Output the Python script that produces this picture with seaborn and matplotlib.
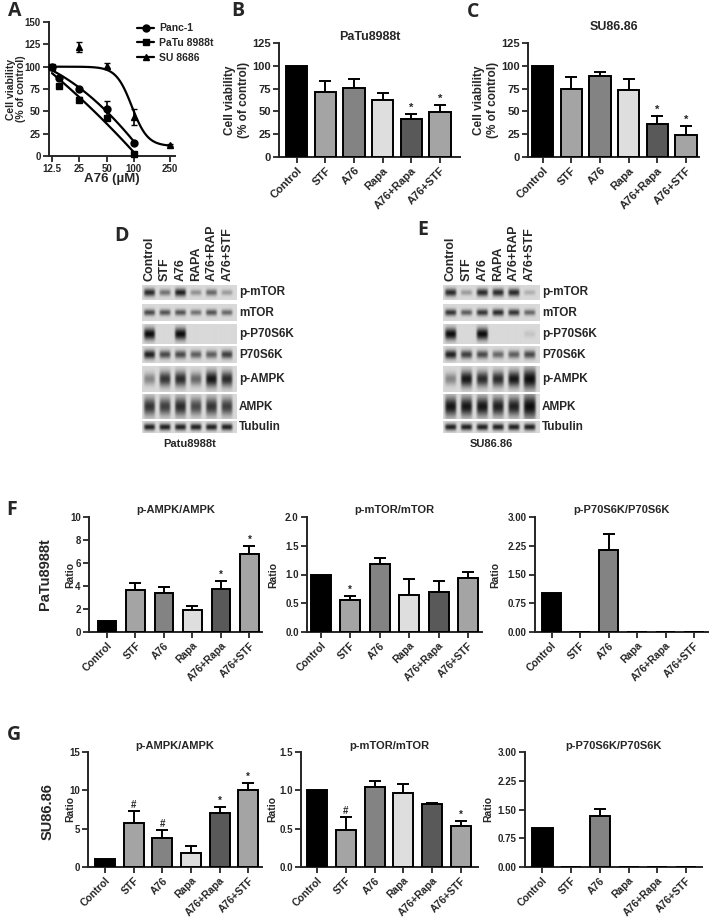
import numpy as np
import matplotlib
matplotlib.use("Agg")
import matplotlib.pyplot as plt
from matplotlib.lines import Line2D
import seaborn as sns

W, H = 712, 919

# ---------------- data ----------------
treatments = ["Control", "STF", "A76", "Rapa", "A76+Rapa", "A76+STF"]
bar_colors = ["#000000", "#a4a4a4", "#838383", "#dedede", "#595959", "#a4a4a4"]

# A: dose response (A76, uM)
panc1_dose = [12.5, 15, 25, 50, 100]
panc1_mean = [100, 87, 75, 53, 15]
panc1_err = [0, 2, 2, 9, 1]
patu_dose = [12.5, 15, 25, 50, 100]
patu_mean = [100, 78, 63, 42, 2]
patu_err = [0, 2, 3, 2, 1]
su_dose = [12.5, 25, 50, 100, 250]
su_mean = [100, 122, 101, 44, 12]
su_err = [0, 6, 3, 9, 1]
su_fit = [100, 11, 95, 5]          # top, bottom, IC50, hill slope
dose_ticks = [12.5, 25, 50, 100, 250]

# B / C: cell viability (% of control)
patu_viab = [100, 71, 76, 63, 42, 49]
patu_viab_err = [0, 12, 10, 7, 5, 8]
su_viab = [100, 75, 89, 74, 36, 24]
su_viab_err = [0, 13, 4, 12, 9, 10]
viab_sig = ["", "", "", "", "*", "*"]

# F: PaTu8988t ratios
patu_ampk = [1.0, 3.65, 3.42, 1.9, 3.77, 6.8]
patu_ampk_err = [0, 0.58, 0.52, 0.38, 0.67, 0.7]
patu_ampk_sig = ["", "", "", "", "*", "*"]
patu_mtor = [1.0, 0.56, 1.19, 0.64, 0.70, 0.935]
patu_mtor_err = [0, 0.07, 0.10, 0.28, 0.19, 0.105]
patu_mtor_sig = ["", "*", "", "", "", ""]
patu_p70 = [1.03, 0, 2.15, 0, 0, 0]
patu_p70_err = [0, 0, 0.4, 0, 0, 0]

# G: SU86.86 ratios
su_ampk = [1.04, 5.78, 3.74, 1.83, 7.09, 10.0]
su_ampk_err = [0, 1.5, 1.04, 0.87, 0.74, 1.0]
su_ampk_sig = ["", "#", "#", "", "*", "*"]
su_mtor = [1.0, 0.48, 1.05, 0.96, 0.82, 0.53]
su_mtor_err = [0, 0.17, 0.07, 0.12, 0.01, 0.07]
su_mtor_sig = ["", "#", "", "", "", "*"]
su_p70 = [1.02, 0, 1.32, 0, 0, 0]
su_p70_err = [0, 0, 0.2, 0, 0, 0]

# D / E: western blot band strengths (rows = proteins, cols = lanes)
blot_lanes = ["Control", "STF", "A76", "RAPA", "A76+RAP", "A76+STF"]
blot_proteins = ["p-mTOR", "mTOR", "p-P70S6K", "P70S6K", "p-AMPK", "AMPK", "Tubulin"]
patu_blot = [
    [0.85, 0.5, 0.9, 0.35, 0.55, 0.3],
    [0.7, 0.65, 0.65, 0.5, 0.65, 0.55],
    [1.0, 0, 1.05, 0, 0, 0],
    [0.9, 0.7, 0.7, 0.6, 0.6, 0.75],
    [0.4, 0.8, 0.85, 0.55, 0.95, 0.85],
    [0.8, 0.75, 0.85, 0.7, 0.8, 0.75],
    [0.9, 0.9, 0.9, 0.9, 0.9, 0.9],
]
su_blot = [
    [0.85, 0.3, 0.85, 0.85, 0.85, 0.2],
    [0.8, 0.6, 0.8, 0.85, 0.8, 0.55],
    [1.0, 0, 1.05, 0, 0, 0.1],
    [0.9, 0.75, 0.7, 0.55, 0.6, 0.7],
    [0.4, 0.95, 0.85, 0.85, 0.95, 1.5],
    [0.95, 0.95, 0.95, 0.9, 0.9, 1.4],
    [0.9, 0.9, 0.9, 0.9, 0.9, 0.9],
]

# ---------------- style ----------------
sns.set_style("ticks")
plt.rcParams["font.family"] = ["Liberation Sans", "DejaVu Sans"]
plt.rcParams["font.weight"] = "bold"
plt.rcParams["axes.labelweight"] = "bold"
plt.rcParams["axes.titleweight"] = "bold"
plt.rcParams["axes.linewidth"] = 1.4

fig = plt.figure(figsize=(W / 100, H / 100), dpi=100)


def px_rect(l, t, r, b):
    return [l / W, 1 - b / H, (r - l) / W, (b - t) / H]


def panel_letter(x, y, s):
    fig.text(x / W, 1 - y / H, s, fontsize=14, fontweight="bold",
             family=["Open Sans", "DejaVu Sans"], ha="center", va="center")


def bar_panel(rect, values, errors, marks, ylim, yticks, yfmt, xlim, width,
              title, title_pad, ylabel, ylabel_x, fs, xfs, lfs):
    ax = fig.add_axes(px_rect(*rect))
    sns.barplot(x=treatments, y=values, hue=treatments, palette=bar_colors,
                legend=False, edgecolor="black", linewidth=1.4, width=width,
                ax=ax, zorder=3)
    x = np.arange(len(values))
    vals = np.array(values, dtype=float)
    errs = np.array(errors, dtype=float)
    m = errs > 0
    ax.errorbar(x[m], vals[m], yerr=[np.zeros(m.sum()), errs[m]], fmt="none",
                ecolor="black", elinewidth=1.4, capsize=4, capthick=1.4, zorder=2)
    span = ylim[1] - ylim[0]
    for i, s in enumerate(marks):
        if s:
            ax.text(i, vals[i] + errs[i] + span * 0.01, s, ha="center", va="bottom",
                    fontsize=fs, fontweight="bold")
    ax.set_ylim(*ylim)
    ax.set_xlim(*xlim)
    ax.set_yticks(yticks)
    ax.set_yticklabels([yfmt.format(t) for t in yticks], fontsize=fs)
    ax.set_xticks(x)
    ax.set_xticklabels(treatments, rotation=45, ha="right", rotation_mode="anchor",
                       fontsize=xfs)
    ax.tick_params(direction="out", length=4, width=1.3, pad=2)
    ax.set_xlabel("")
    ax.set_title(title, fontsize=fs + 1, pad=title_pad)
    ax.set_ylabel(ylabel, fontsize=lfs)
    ax.yaxis.set_label_coords(ylabel_x, 0.5)
    sns.despine(ax=ax)
    return ax


# ---------------- A ----------------
axA = fig.add_axes(px_rect(49, 22, 175, 156))
axA.set_xscale("log")
grid_low = np.logspace(np.log10(12.5), np.log10(100), 120)
grid_all = np.logspace(np.log10(12.5), np.log10(250), 200)
c1 = np.polyfit(np.log10(panc1_dose), panc1_mean, 2)
c2 = np.polyfit(np.log10(patu_dose), patu_mean, 2)
top, bottom, ic50, hill = su_fit
sns.lineplot(x=grid_low, y=np.polyval(c1, np.log10(grid_low)), color="black",
             linewidth=1.6, ax=axA)
sns.lineplot(x=grid_low, y=np.polyval(c2, np.log10(grid_low)), color="black",
             linewidth=1.6, ax=axA)
sns.lineplot(x=grid_all, y=bottom + (top - bottom) / (1 + (grid_all / ic50) ** hill),
             color="black", linewidth=1.6, ax=axA)
for d, mval, e, mk in [(panc1_dose, panc1_mean, panc1_err, "o"),
                       (patu_dose, patu_mean, patu_err, "s"),
                       (su_dose, su_mean, su_err, "^")]:
    axA.errorbar(d, mval, yerr=e, fmt=mk, color="black", markersize=5,
                 capsize=2.5, elinewidth=1.2, clip_on=False, zorder=4)
axA.set_xlim(11.6, 284)
axA.set_ylim(0, 150)
axA.set_xticks(dose_ticks)
axA.set_xticklabels(["12.5", "25", "50", "100", "250"], fontsize=7)
axA.xaxis.set_minor_locator(matplotlib.ticker.NullLocator())
axA.set_yticks([0, 25, 50, 75, 100, 125, 150])
axA.set_yticklabels(["0", "25", "50", "75", "100", "125", "150"], fontsize=7)
axA.tick_params(direction="out", length=4, width=1.3, pad=2)
axA.set_xlabel("A76 (\u00b5M)", fontsize=9.5)
axA.xaxis.set_label_coords(0.5, -0.13)
axA.set_ylabel("Cell viability\n(% of control)", fontsize=7.5, linespacing=1.0)
axA.yaxis.set_label_coords(-0.185, 0.5)
sns.despine(ax=axA)
handles = [Line2D([0], [0], color="black", marker=mk, markersize=5, linewidth=1.6)
           for mk in ["o", "s", "^"]]
axA.legend(handles, ["Panc-1", "PaTu 8988t", "SU 8686"], loc="upper left",
           bbox_to_anchor=(0.70, 0.99), frameon=False, fontsize=7.5,
           handlelength=1.6, handletextpad=0.5, labelspacing=0.45,
           borderpad=0, borderaxespad=0)

# ---------------- B / C ----------------
bar_panel((279, 43, 460, 157), patu_viab, patu_viab_err, viab_sig, (0, 125),
          [0, 25, 50, 75, 100, 125], "{:g}", (-0.62, 5.7), 0.74,
          "PaTu8988t", 2, "Cell viability\n(% of control)", -0.16, 8, 8, 8.5)
bar_panel((528, 43, 699, 157), su_viab, su_viab_err, viab_sig, (0, 125),
          [0, 25, 50, 75, 100, 125], "{:g}", (-0.51, 5.45), 0.75,
          "SU86.86", 9, "Cell viability\n(% of control)", -0.17, 8, 8, 8.5)


# ---------------- D / E blots ----------------
strip_rows = [(0, 15), (19, 36), (39, 59), (61, 78), (81, 107), (109, 134), (136, 148)]
band_thick = [0.28, 0.22, 0.3, 0.28, 0.32, 0.4, 0.3]


def draw_blot(rect, levels, cell_name):
    ax = fig.add_axes(px_rect(*rect))
    x0, x1 = -0.47, 5.63
    ax.set_axis_off()
    xs = np.linspace(x0, x1, 160)
    for (t, b), row, th, name in zip(strip_rows, levels, band_thick, blot_proteins):
        ys = np.linspace(-0.5, 0.5, 40)
        dark = np.zeros((len(ys), len(xs)))
        for j, v in enumerate(row):
            if v <= 0:
                continue
            sig = th * (0.55 + 0.45 * min(v, 1.6))
            prof_x = np.exp(-((xs - j) / (0.36 + 0.06 * max(v - 1, 0))) ** 6)
            prof_y = np.exp(-(ys / sig) ** 2)
            dark += min(v, 1.0) * prof_y[:, None] * prof_x[None, :]
        img = 0.85 - 0.8 * np.clip(dark, 0, 1)
        ax.imshow(img, cmap="gray", vmin=0, vmax=1, extent=(x0, x1, b, t),
                  aspect="auto", interpolation="bilinear", origin="upper")
        ax.text(x1 + 0.12, (t + b) / 2, name, ha="left", va="center", fontsize=8.5,
                fontweight="bold")
    ax.set_xlim(x0, x1)
    ax.set_ylim(148, 0)
    for j, lane in enumerate(blot_lanes):
        ax.text(j, -4, lane, rotation=90, ha="center", va="bottom", fontsize=9,
                fontweight="bold")
    ax.text((x0 + x1) / 2, 154, cell_name, ha="center", va="top", fontsize=8,
            fontweight="bold")


draw_blot((142, 285, 237, 433), patu_blot, "Patu8988t")
draw_blot((443, 285, 540, 433), su_blot, "SU86.86")

# ---------------- F ----------------
bar_panel((89, 517, 262, 632), patu_ampk, patu_ampk_err, patu_ampk_sig, (0, 10),
          [0, 2, 4, 6, 8, 10], "{:g}", (-0.63, 5.44), 0.66,
          "p-AMPK/AMPK", 3, "Ratio", -0.08, 7, 7.5, 7.5)
bar_panel((307, 517, 482, 632), patu_mtor, patu_mtor_err, patu_mtor_sig, (0, 2),
          [0, 0.5, 1.0, 1.5, 2.0], "{:.1f}", (-0.46, 5.47), 0.68,
          "p-mTOR/mTOR", 3, "Ratio", -0.166, 7, 7.5, 7.5)
bar_panel((535, 517, 708, 632), patu_p70, patu_p70_err, [""] * 6, (0, 3),
          [0, 0.75, 1.5, 2.25, 3.0], "{:.2f}", (-0.58, 5.49), 0.67,
          "p-P70S6K/P70S6K", 3, "Ratio", -0.2, 7, 7.5, 7.5)

# ---------------- G ----------------
bar_panel((88, 752, 262, 867), su_ampk, su_ampk_err, su_ampk_sig, (0, 15),
          [0, 5, 10, 15], "{:g}", (-0.6, 5.48), 0.7,
          "p-AMPK/AMPK", 2, "Ratio", -0.075, 7, 7.5, 7.5)
bar_panel((301, 752, 478, 867), su_mtor, su_mtor_err, su_mtor_sig, (0, 1.5),
          [0, 0.5, 1.0, 1.5], "{:.1f}", (-0.56, 5.6), 0.7,
          "p-mTOR/mTOR", 2, "Ratio", -0.136, 7, 7.5, 7.5)
bar_panel((525, 752, 702, 867), su_p70, su_p70_err, [""] * 6, (0, 3),
          [0, 0.75, 1.5, 2.25, 3.0], "{:.2f}", (-0.61, 5.56), 0.7,
          "p-P70S6K/P70S6K", 2, "Ratio", -0.18, 7, 7.5, 7.5)

fig.text(45 / W, 1 - 574 / H, "PaTu8988t", rotation=90, fontsize=10.5,
         fontweight="bold", ha="center", va="center")
fig.text(48 / W, 1 - 812 / H, "SU86.86", rotation=90, fontsize=10.5,
         fontweight="bold", ha="center", va="center")

panel_letter(15, 11, "A")
panel_letter(238, 11, "B")
panel_letter(473, 12, "C")
panel_letter(122, 236, "D")
panel_letter(423, 230, "E")
panel_letter(12, 510, "F")
panel_letter(14, 735, "G")

fig.savefig("out.png", dpi=100)
